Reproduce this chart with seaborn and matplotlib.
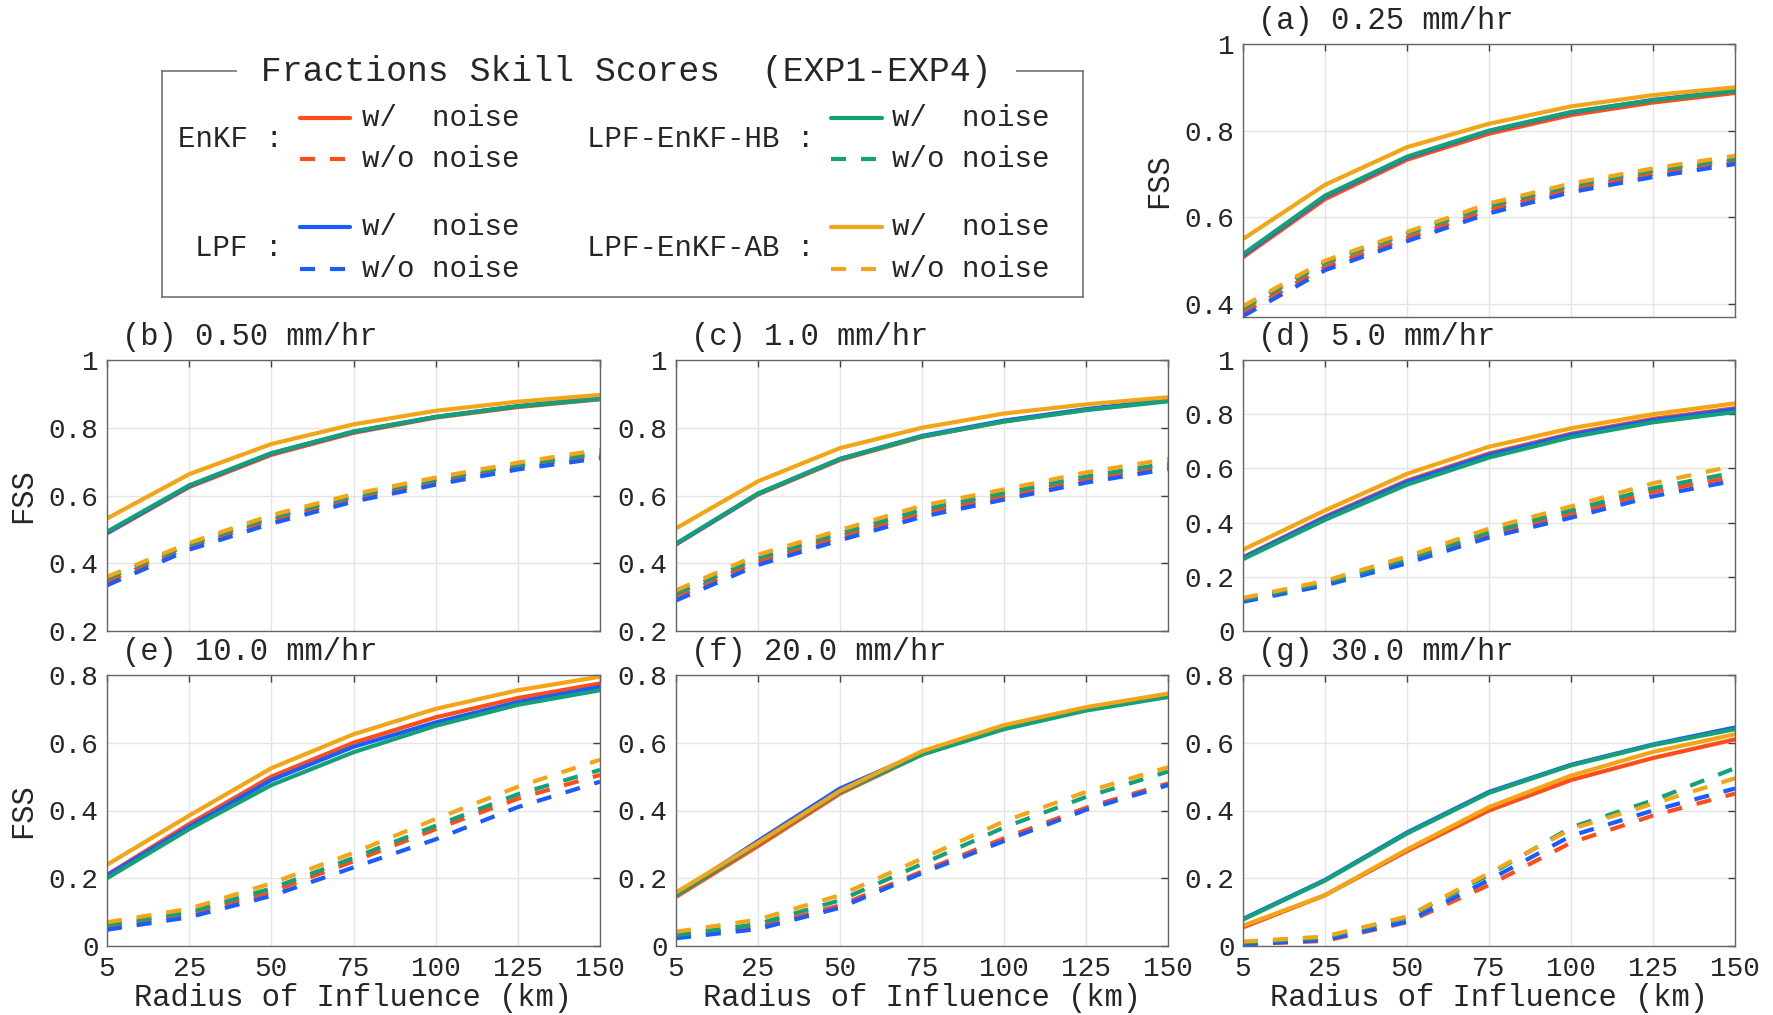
import pandas as pd
import seaborn as sns
import matplotlib.pyplot as plt

# radius of influence (km); plotted at equally spaced positions
radius_km = [5, 25, 50, 75, 100, 125, 150]
methods = ['EnKF', 'LPF', 'LPF-EnKF-HB', 'LPF-EnKF-AB']
colors = ['#ff4d1a', '#1a5cff', '#16a078', '#f2a516']

# rows: EnKF, LPF, LPF-EnKF-HB, LPF-EnKF-AB
# (a) 0.25 mm/hr
a_w = [[0.508, 0.642, 0.733, 0.793, 0.836, 0.865, 0.887],
       [0.512, 0.648, 0.738, 0.799, 0.842, 0.871, 0.892],
       [0.515, 0.650, 0.740, 0.800, 0.843, 0.870, 0.891],
       [0.550, 0.675, 0.762, 0.816, 0.856, 0.882, 0.900]]
a_wo = [[0.380, 0.485, 0.552, 0.617, 0.665, 0.700, 0.730],
        [0.372, 0.478, 0.545, 0.609, 0.658, 0.693, 0.723],
        [0.390, 0.495, 0.562, 0.626, 0.673, 0.708, 0.735],
        [0.395, 0.500, 0.566, 0.632, 0.678, 0.713, 0.742]]
# (b) 0.50 mm/hr
b_w = [[0.488, 0.625, 0.720, 0.785, 0.830, 0.861, 0.884],
       [0.490, 0.628, 0.724, 0.788, 0.832, 0.864, 0.888],
       [0.493, 0.630, 0.725, 0.789, 0.832, 0.863, 0.885],
       [0.532, 0.663, 0.752, 0.810, 0.850, 0.877, 0.897]]
b_wo = [[0.345, 0.448, 0.527, 0.590, 0.640, 0.684, 0.718],
        [0.335, 0.440, 0.517, 0.582, 0.632, 0.677, 0.710],
        [0.355, 0.455, 0.535, 0.598, 0.647, 0.690, 0.725],
        [0.360, 0.460, 0.542, 0.604, 0.653, 0.697, 0.735]]
# (c) 1.0 mm/hr
c_w = [[0.456, 0.603, 0.705, 0.773, 0.819, 0.853, 0.880],
       [0.456, 0.605, 0.708, 0.776, 0.821, 0.855, 0.882],
       [0.458, 0.606, 0.708, 0.774, 0.818, 0.852, 0.878],
       [0.503, 0.642, 0.740, 0.800, 0.842, 0.869, 0.890]]
c_wo = [[0.300, 0.405, 0.478, 0.548, 0.597, 0.648, 0.688],
        [0.290, 0.395, 0.468, 0.537, 0.588, 0.638, 0.678],
        [0.310, 0.415, 0.488, 0.558, 0.607, 0.656, 0.695],
        [0.320, 0.425, 0.498, 0.570, 0.618, 0.668, 0.708]]
# (d) 5.0 mm/hr
d_w = [[0.272, 0.422, 0.555, 0.655, 0.728, 0.783, 0.822],
       [0.270, 0.418, 0.550, 0.650, 0.724, 0.778, 0.818],
       [0.265, 0.410, 0.540, 0.640, 0.715, 0.770, 0.808],
       [0.300, 0.445, 0.580, 0.680, 0.748, 0.800, 0.840]]
d_wo = [[0.112, 0.174, 0.258, 0.355, 0.432, 0.513, 0.570],
        [0.108, 0.168, 0.250, 0.345, 0.418, 0.497, 0.555],
        [0.117, 0.178, 0.265, 0.365, 0.445, 0.527, 0.585],
        [0.122, 0.185, 0.275, 0.378, 0.460, 0.545, 0.610]]
# (e) 10.0 mm/hr
e_w = [[0.210, 0.360, 0.500, 0.600, 0.675, 0.732, 0.775],
       [0.208, 0.352, 0.490, 0.588, 0.660, 0.720, 0.765],
       [0.200, 0.345, 0.475, 0.572, 0.650, 0.712, 0.755],
       [0.240, 0.385, 0.525, 0.625, 0.700, 0.755, 0.795]]
e_wo = [[0.055, 0.095, 0.160, 0.250, 0.345, 0.435, 0.505],
        [0.048, 0.085, 0.148, 0.232, 0.315, 0.410, 0.485],
        [0.062, 0.100, 0.170, 0.260, 0.355, 0.448, 0.520],
        [0.070, 0.110, 0.185, 0.275, 0.375, 0.470, 0.550]]
# (f) 20.0 mm/hr
f_w = [[0.145, 0.295, 0.450, 0.565, 0.645, 0.700, 0.740],
       [0.152, 0.310, 0.465, 0.570, 0.648, 0.700, 0.740],
       [0.150, 0.303, 0.455, 0.565, 0.640, 0.695, 0.735],
       [0.158, 0.305, 0.458, 0.575, 0.652, 0.705, 0.745]]
f_wo = [[0.028, 0.055, 0.120, 0.220, 0.318, 0.408, 0.480],
        [0.023, 0.050, 0.113, 0.215, 0.310, 0.402, 0.475],
        [0.032, 0.065, 0.135, 0.242, 0.350, 0.440, 0.515],
        [0.042, 0.078, 0.150, 0.258, 0.368, 0.455, 0.528]]
# (g) 30.0 mm/hr
g_w = [[0.055, 0.150, 0.280, 0.400, 0.490, 0.555, 0.610],
       [0.080, 0.195, 0.335, 0.455, 0.535, 0.595, 0.645],
       [0.078, 0.193, 0.332, 0.452, 0.533, 0.593, 0.640],
       [0.060, 0.150, 0.285, 0.410, 0.503, 0.573, 0.625]]
g_wo = [[0.005, 0.015, 0.070, 0.180, 0.305, 0.385, 0.450],
        [0.005, 0.018, 0.072, 0.195, 0.325, 0.400, 0.465],
        [0.010, 0.025, 0.085, 0.210, 0.350, 0.430, 0.525],
        [0.013, 0.028, 0.087, 0.215, 0.345, 0.420, 0.495]]

sns.set_theme(style='white')
plt.rcParams['font.family'] = ['Liberation Mono', 'DejaVu Sans Mono']

W, H = 1773, 1015
fig = plt.figure(figsize=(W / 100, H / 100), dpi=100)


def px(l, t, r, b):
    return [l / W, 1 - b / H, (r - l) / W, (b - t) / H]


dash = (3.6, 3.6)
panels = [
    ('(a) 0.25 mm/hr', a_w, a_wo, px(1243, 44, 1735, 317), (0.37, 1), [0.4, 0.6, 0.8, 1], False, True),
    ('(b) 0.50 mm/hr', b_w, b_wo, px(107, 360, 600, 631), (0.2, 1), [0.2, 0.4, 0.6, 0.8, 1], False, True),
    ('(c) 1.0 mm/hr', c_w, c_wo, px(676, 360, 1168, 631), (0.2, 1), [0.2, 0.4, 0.6, 0.8, 1], False, False),
    ('(d) 5.0 mm/hr', d_w, d_wo, px(1243, 360, 1735, 631), (0, 1), [0, 0.2, 0.4, 0.6, 0.8, 1], False, False),
    ('(e) 10.0 mm/hr', e_w, e_wo, px(107, 675, 600, 946), (0, 0.8), [0, 0.2, 0.4, 0.6, 0.8], True, True),
    ('(f) 20.0 mm/hr', f_w, f_wo, px(676, 675, 1168, 946), (0, 0.8), [0, 0.2, 0.4, 0.6, 0.8], True, False),
    ('(g) 30.0 mm/hr', g_w, g_wo, px(1243, 675, 1735, 946), (0, 0.8), [0, 0.2, 0.4, 0.6, 0.8], True, False),
]


def fmt(v):
    return '%g' % v


for title, fw, fwo, pos, ylim, yt, xlab, ylab in panels:
    rows = []
    for m, vw, vwo in zip(methods, fw, fwo):
        for i, r in enumerate(radius_km):
            rows.append({'pos': i, 'method': m, 'noise': 'w/ noise', 'fss': vw[i]})
            rows.append({'pos': i, 'method': m, 'noise': 'w/o noise', 'fss': vwo[i]})
    df = pd.DataFrame(rows)

    ax = fig.add_axes(pos)
    sns.lineplot(data=df, x='pos', y='fss', hue='method', style='noise',
                 hue_order=methods, style_order=['w/ noise', 'w/o noise'],
                 palette=colors, dashes={'w/ noise': '', 'w/o noise': dash},
                 lw=3.0, legend=False, estimator=None, sort=False, ax=ax)
    ax.set_xlim(0, len(radius_km) - 1)
    ax.set_ylim(*ylim)
    ax.set_xticks(range(len(radius_km)))
    ax.set_yticks(yt)
    ax.set_yticklabels([fmt(v) for v in yt])
    if xlab:
        ax.set_xticklabels([str(r) for r in radius_km])
        ax.set_xlabel('Radius of Influence (km)', fontsize=22, labelpad=1)
    else:
        ax.set_xticklabels([])
        ax.set_xlabel('')
    if ylab:
        ax.set_ylabel('FSS', fontsize=22)
        ax.yaxis.set_label_coords(-0.14, 0.5)
    else:
        ax.set_ylabel('')
    ax.grid(True, color='#e4e4e4', lw=1)
    ax.tick_params(direction='in', length=5, width=1, top=True, right=True,
                   labelsize=20, color='0.25', pad=6)
    ax.tick_params(axis='x', pad=7)
    for s in ax.spines.values():
        s.set_color('0.4')
        s.set_linewidth(1)
    ax.text(0.03, 1 + 23 / 271, title, transform=ax.transAxes,
            ha='left', va='center', fontsize=22)

# legend panel
lax = fig.add_axes(px(162, 71, 1083, 297))
lax.set_xlim(0, 1)
lax.set_ylim(0, 1)
lax.set_xticks([])
lax.set_yticks([])
for s in lax.spines.values():
    s.set_color('0.45')
    s.set_linewidth(1.2)
lax.text(0.504, 1.0, ' Fractions Skill Scores  (EXP1-EXP4) ', ha='center', va='center',
         fontsize=25, bbox=dict(boxstyle='square,pad=0.1', fc='white', ec='none'))

groups = [
    (0, 0.131, 0.150, 0.204, 0.217, 0.794, 0.611, 0.699),
    (1, 0.131, 0.150, 0.204, 0.217, 0.310, 0.124, 0.217),
    (2, 0.708, 0.726, 0.782, 0.793, 0.794, 0.611, 0.699),
    (3, 0.708, 0.726, 0.782, 0.793, 0.310, 0.124, 0.217),
]
for k, xl, x0, x1, xt, y1, y2, yl in groups:
    lax.text(xl, yl, methods[k] + ' :', ha='right', va='center', fontsize=21)
    lax.plot([x0, x1], [y1, y1], color=colors[k], lw=3.0)
    lax.plot([x0, x1], [y2, y2], color=colors[k], lw=3.0, dashes=dash)
    lax.text(xt, y1, 'w/  noise', ha='left', va='center', fontsize=21)
    lax.text(xt, y2, 'w/o noise', ha='left', va='center', fontsize=21)

fig.savefig('out.png', dpi=100)
